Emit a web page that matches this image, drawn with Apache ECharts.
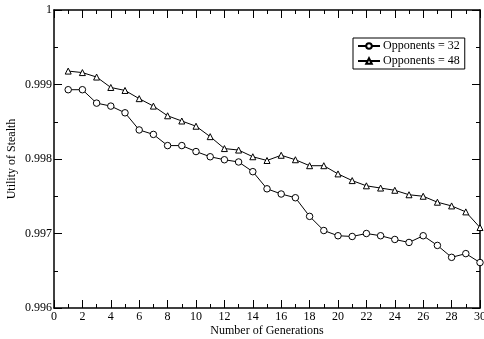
<!DOCTYPE html>
<html><head><meta charset="utf-8">
<script src="https://cdn.jsdelivr.net/npm/echarts@6/dist/echarts.min.js"></script>
<style>html,body{margin:0;padding:0;background:#fff}#c{width:484px;height:339px}</style>
</head><body><div id="c"></div>
<script>
const generations = [1,2,3,4,5,6,7,8,9,10,11,12,13,14,15,16,17,18,19,20,21,22,23,24,25,26,27,28,29,30];
const opp32 = [0.99893,0.99893,0.99875,0.99871,0.99862,0.99839,0.99833,0.99818,0.99818,0.99810,0.99803,0.99799,0.99796,0.99783,0.99760,0.99753,0.99748,0.99723,0.99704,0.99697,0.99696,0.99700,0.99697,0.99692,0.99688,0.99697,0.99684,0.99668,0.99673,0.99661];
const opp48 = [0.99918,0.99916,0.99910,0.99896,0.99892,0.99881,0.99871,0.99858,0.99851,0.99844,0.99830,0.99814,0.99812,0.99803,0.99798,0.99805,0.99799,0.99791,0.99791,0.99780,0.99771,0.99764,0.99761,0.99758,0.99752,0.99750,0.99742,0.99737,0.99729,0.99708];
const seriesNames = ['Opponents = 32','Opponents = 48'];
const xTitle = 'Number of Generations';
const yTitle = 'Utility of Stealth';

const font = '"Liberation Serif","Times New Roman",serif';
const chart = echarts.init(document.getElementById('c'));
const axisCommon = {
  axisLine:{show:true,onZero:false,lineStyle:{color:'#000',width:1.5}},
  axisTick:{show:true,inside:true,length:8,lineStyle:{color:'#000',width:1}},
  minorTick:{show:true,splitNumber:2,length:4,lineStyle:{color:'#000',width:1}},
  splitLine:{show:false}
};
chart.setOption({
  animation:false,
  backgroundColor:'#fff',
  grid:{left:54,right:4,top:10,bottom:31,containLabel:false,outerBoundsMode:'none'},
  legend:{
    data:seriesNames, orient:'vertical', left:353, top:38,
    padding:[2,5,2,4], itemGap:3, itemWidth:22, itemHeight:7,
    borderColor:'#000', borderWidth:1, backgroundColor:'#fff',
    textStyle:{fontFamily:font,fontSize:12,color:'#000',padding:[0,0,0,-2]}
  },
  xAxis:[
    Object.assign({type:'value',min:0,max:30,interval:2,position:'bottom',
      name:xTitle,nameLocation:'middle',nameGap:17,nameMoveOverlap:false,
      nameTextStyle:{fontFamily:font,fontSize:12,color:'#000'},
      axisLabel:{fontFamily:font,fontSize:12,color:'#000',margin:3,showMaxLabel:true,hideOverlap:false}},axisCommon),
    Object.assign({type:'value',min:0,max:30,interval:2,position:'top',axisLabel:{show:false}},axisCommon)
  ],
  yAxis:[
    Object.assign({type:'value',min:0.996,max:1,interval:0.001,position:'left',
      name:yTitle,nameLocation:'middle',nameGap:36,nameMoveOverlap:false,
      nameTextStyle:{fontFamily:font,fontSize:12,color:'#000'},
      axisLabel:{fontFamily:font,fontSize:12,color:'#000',margin:2,
        formatter:v=>Math.abs(v-1)<1e-9?'1':v.toFixed(3)}},axisCommon),
    Object.assign({type:'value',min:0.996,max:1,interval:0.001,position:'right',axisLabel:{show:false}},axisCommon)
  ],
  series:[
    {name:seriesNames[0],type:'line',data:generations.map((g,i)=>[g,opp32[i]]),
      symbol:'circle',symbolSize:6.5,lineStyle:{color:'#000',width:1},
      itemStyle:{color:'#fff',borderColor:'#000',borderWidth:1},showAllSymbol:true},
    {name:seriesNames[1],type:'line',data:generations.map((g,i)=>[g,opp48[i]]),
      symbol:'triangle',symbolSize:6,lineStyle:{color:'#000',width:1},
      itemStyle:{color:'#fff',borderColor:'#000',borderWidth:1},showAllSymbol:true}
  ]
});
</script></body></html>
